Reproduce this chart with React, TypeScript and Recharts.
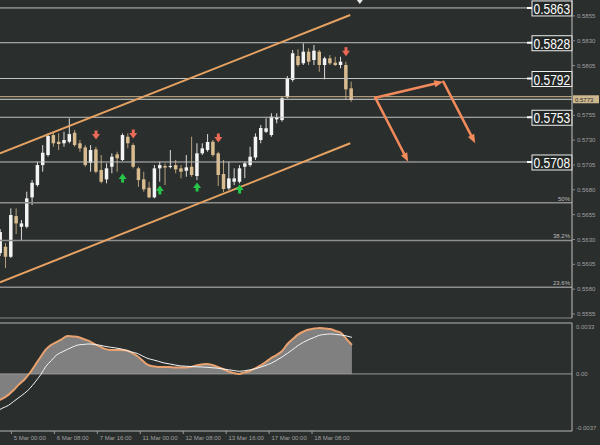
import React from "react";
import {
  Area,
  Bar,
  ComposedChart,
  Line,
  ReferenceDot,
  ReferenceLine,
  XAxis,
  YAxis,
} from "recharts";

// 4H candles
const openPrices = [
  0.56163, 0.56227, 0.56126, 0.56536, 0.56428, 0.56428, 0.56724, 0.56848, 0.57049, 0.5715,
  0.57351, 0.57284, 0.57268, 0.57284, 0.57374, 0.57268, 0.57227, 0.57072, 0.57207, 0.56999,
  0.56905, 0.57032, 0.57157, 0.571, 0.57334, 0.5725, 0.57016, 0.56905, 0.56821, 0.56724,
  0.57016, 0.57039, 0.57032, 0.57049, 0.57016, 0.56992, 0.57032, 0.56939, 0.57167, 0.572,
  0.57284, 0.57167, 0.56959, 0.56815, 0.56881, 0.56881, 0.57032, 0.57049, 0.57125, 0.57301,
  0.57384, 0.57351, 0.57509, 0.57502, 0.57731, 0.57905, 0.58146, 0.58073, 0.5819, 0.58106,
  0.5819, 0.58056, 0.58123, 0.58079, 0.58056, 0.58056, 0.57821,
];
const highPrices = [
  0.56405, 0.56264, 0.56613, 0.56613, 0.56496, 0.56781, 0.56898, 0.57082, 0.5725, 0.57368,
  0.57384, 0.57368, 0.57384, 0.57519, 0.57402, 0.57301, 0.5725, 0.5725, 0.57233, 0.5715,
  0.57066, 0.57167, 0.57183, 0.57368, 0.57368, 0.57268, 0.57032, 0.56982, 0.56881, 0.57049,
  0.57082, 0.57066, 0.572, 0.571, 0.57049, 0.5715, 0.57334, 0.57268, 0.57268, 0.57361,
  0.57301, 0.57183, 0.571, 0.57082, 0.57016, 0.57049, 0.57082, 0.57233, 0.57368, 0.57452,
  0.57519, 0.5757, 0.5757, 0.57737, 0.57945, 0.58207, 0.58214, 0.58274, 0.58224, 0.58257,
  0.58207, 0.58139, 0.58156, 0.58139, 0.58139, 0.58089, 0.57888,
];
const lowPrices = [
  0.56133, 0.56012, 0.56113, 0.56355, 0.56294, 0.56412, 0.56647, 0.56831, 0.56982, 0.57133,
  0.57233, 0.572, 0.57233, 0.57268, 0.57233, 0.57183, 0.57032, 0.56982, 0.56966, 0.56865,
  0.56865, 0.56966, 0.56982, 0.5709, 0.57217, 0.57016, 0.56831, 0.56781, 0.56714, 0.56714,
  0.56881, 0.56848, 0.57016, 0.56966, 0.56915, 0.56931, 0.56931, 0.56898, 0.5715, 0.57183,
  0.57133, 0.56838, 0.56777, 0.56798, 0.56848, 0.56865, 0.56918, 0.57032, 0.571, 0.57268,
  0.57371, 0.57334, 0.57469, 0.57485, 0.57721, 0.57888, 0.58039, 0.58056, 0.58056, 0.58056,
  0.57988, 0.57912, 0.58056, 0.58046, 0.58023, 0.57704, 0.57686,
];
const closePrices = [
  0.56375, 0.56126, 0.56546, 0.56462, 0.56462, 0.56714, 0.56871, 0.57049, 0.57173, 0.57341,
  0.57268, 0.57261, 0.57301, 0.57361, 0.5725, 0.57217, 0.57049, 0.572, 0.56982, 0.56881,
  0.57016, 0.57133, 0.57117, 0.57351, 0.57268, 0.57032, 0.56898, 0.56805, 0.56724, 0.57016,
  0.57049, 0.57024, 0.57039, 0.57006, 0.56982, 0.57026, 0.56949, 0.57167, 0.57217, 0.57281,
  0.5715, 0.56949, 0.56808, 0.56915, 0.56915, 0.57016, 0.57066, 0.57133, 0.57334, 0.57422,
  0.57419, 0.57535, 0.57529, 0.57721, 0.57922, 0.58174, 0.58056, 0.5819, 0.58089, 0.582,
  0.58056, 0.58123, 0.58073, 0.58056, 0.58089, 0.57811, 0.57704,
];

// oscillator panel
const oscValues = [
  -0.00175, -0.00159, -0.00136, -0.00104, -0.00068, -0.00036, 0.00006, 0.00058, 0.0011, 0.00159,
  0.00188, 0.00207, 0.00226, 0.00246, 0.00243, 0.00239, 0.00226, 0.00214, 0.00194, 0.00178,
  0.00162, 0.00155, 0.00155, 0.00155, 0.00152, 0.00136, 0.00116, 0.00087, 0.00058, 0.00049,
  0.00045, 0.00045, 0.00045, 0.00042, 0.00042, 0.00042, 0.00045, 0.00055, 0.00061, 0.00065,
  0.00058, 0.00045, 0.00032, 0.00016, 0.00006, 0, 0.0001, 0.00019, 0.00036, 0.00055,
  0.00078, 0.00104, 0.00123, 0.00149, 0.00194, 0.00226, 0.00256, 0.00275, 0.00288, 0.00294,
  0.00298, 0.00294, 0.00291, 0.00278, 0.00265, 0.00226, 0.00188,
];
const signalValues = [
  -0.00239, -0.0022, -0.00204, -0.00178, -0.00152, -0.00126, -0.00094, -0.00052, -0.00006, 0.00049,
  0.00087, 0.00123, 0.00142, 0.00159, 0.00175, 0.00188, 0.00191, 0.00194, 0.00191, 0.00186,
  0.00179, 0.00173, 0.00168, 0.00162, 0.00152, 0.00142, 0.00133, 0.00116, 0.001, 0.00091,
  0.00081, 0.00071, 0.00065, 0.00058, 0.00052, 0.0005, 0.00048, 0.00046, 0.00045, 0.00043,
  0.0004, 0.00037, 0.00032, 0.00027, 0.00022, 0.00017, 0.00021, 0.00026, 0.00034, 0.00044,
  0.00056, 0.0007, 0.00089, 0.0011, 0.00134, 0.00159, 0.00185, 0.00206, 0.00223, 0.00237,
  0.00251, 0.00256, 0.00259, 0.00256, 0.00252, 0.00246, 0.00237,
];

const timeTickIndex = [3, 11, 19, 27, 35, 43, 51, 59];
const timeTickLabels = [
  "5 Mar 00:00", "6 Mar 08:00", "7 Mar 16:00", "11 Mar 00:00",
  "12 Mar 08:00", "13 Mar 16:00", "17 Mar 00:00", "18 Mar 08:00",
];

const priceTicks = [0.5855, 0.583, 0.5805, 0.5755, 0.573, 0.5705, 0.568, 0.5655, 0.563, 0.5605, 0.558, 0.5555];
const levelPrices = [0.5863, 0.5828, 0.5792, 0.5753, 0.5708];
const fibPrices = [0.5667, 0.5629, 0.5582];
const fibLabels = ["50%", "38.2%", "23.6%"];
const askPrice = 0.57737;
const bidPrice = 0.57711;
const lastPriceLabel = "0.5773";

const sellSignalIndex = [18, 25, 41, 65];
const sellSignalPrice = [0.57351, 0.57361, 0.57321, 0.5819];
const buySignalIndex = [23, 30, 37, 45];
const buySignalPrice = [0.56918, 0.56798, 0.56828, 0.56808];

// channel and projection drawings (x = candle slot)
const channelUpper = [{ x: -0.06, y: 0.57167 }, { x: 65.8, y: 0.58559 }];
const channelLower = [{ x: -0.06, y: 0.55869 }, { x: 65.8, y: 0.57268 }];
const projStart = { x: 70.5, y: 0.57727 };
const projPeak = { x: 83.3, y: 0.57888 };
const projDropNow = { x: 76.7, y: 0.57082 };
const projDropLater = { x: 89.3, y: 0.57268 };
const shiftMarker = { x: 67.6, y: 0.5871 };

const oscTicks = [0.0033, 0, -0.0037];
const SLOTS = 108;

const BG = "#2a2e2d";
const AXIS_TEXT = "#a0a0a0";
const ARROW = "#f28a5c";

const rows = Array.from({ length: SLOTS }, (_, i) => {
  const s = sellSignalIndex.indexOf(i);
  const b = buySignalIndex.indexOf(i);
  return {
    i,
    open: openPrices[i] ?? null,
    high: highPrices[i] ?? null,
    low: lowPrices[i] ?? null,
    close: closePrices[i] ?? null,
    osc: oscValues[i] ?? null,
    signal: signalValues[i] ?? null,
    sell: s >= 0 ? sellSignalPrice[s] : null,
    buy: b >= 0 ? buySignalPrice[b] : null,
  };
});

function Candle(props: any) {
  const { x, y, width, height, payload } = props;
  if (!payload || payload.open == null || !isFinite(y)) return <g />;
  const { open, close, high, low } = payload;
  const top = Math.min(y, y + height);
  const span = Math.abs(height);
  const k = span / (high - low);
  const cx = x + width / 2;
  const bodyTop = top + (high - Math.max(open, close)) * k;
  const bodyBottom = top + (high - Math.min(open, close)) * k;
  const up = close >= open;
  return (
    <g>
      <line x1={cx} x2={cx} y1={top} y2={top + span} stroke={up ? "#dcdcdc" : "#b8a07c"} strokeWidth={1} />
      <rect
        x={cx - 1.75}
        y={bodyTop}
        width={3.5}
        height={Math.max(1, bodyBottom - bodyTop)}
        fill={up ? "#f4f4f4" : "#d8bb8e"}
      />
    </g>
  );
}

function SellArrow(props: any) {
  const { cx, cy, value, index } = props;
  if (value == null || cy == null || !isFinite(cy)) return <g key={`s${index}`} />;
  return (
    <g key={`s${index}`}>
      <rect x={cx - 1.5} y={cy - 4.5} width={3} height={4} fill="#ec6a55" />
      <polygon points={`${cx - 4},${cy - 1} ${cx + 4},${cy - 1} ${cx},${cy + 4.5}`} fill="#ec6a55" />
    </g>
  );
}

function BuyArrow(props: any) {
  const { cx, cy, value, index } = props;
  if (value == null || cy == null || !isFinite(cy)) return <g key={`b${index}`} />;
  return (
    <g key={`b${index}`}>
      <rect x={cx - 1.5} y={cy + 0.5} width={3} height={4} fill="#27c64a" />
      <polygon points={`${cx - 4},${cy + 1} ${cx + 4},${cy + 1} ${cx},${cy - 4.5}`} fill="#27c64a" />
    </g>
  );
}

function ArrowSegment(props: any) {
  const { x1, y1, x2, y2 } = props;
  const ang = Math.atan2(y2 - y1, x2 - x1);
  const bx = x2 - 9 * Math.cos(ang);
  const by = y2 - 9 * Math.sin(ang);
  const px = -Math.sin(ang) * 3.5;
  const py = Math.cos(ang) * 3.5;
  return (
    <g>
      <line x1={x1} y1={y1} x2={bx} y2={by} stroke={ARROW} strokeWidth={2.5} strokeLinecap="round" />
      <polygon points={`${x2},${y2} ${bx + px},${by + py} ${bx - px},${by - py}`} fill={ARROW} />
    </g>
  );
}

function ShiftMark(props: any) {
  const { cx, cy } = props;
  if (cx == null || cy == null) return <g />;
  return <polygon points={`${cx - 3},${cy} ${cx + 3},${cy} ${cx},${cy + 4}`} fill="#e8e8e8" />;
}

function LevelTag({ viewBox, text }: any) {
  if (!viewBox) return null;
  const right = viewBox.x + viewBox.width;
  const cy = viewBox.y;
  return (
    <g>
      <line x1={right - 45} x2={right - 40} y1={cy} y2={cy} stroke="#ffffff" strokeWidth={2} />
      <rect x={right - 40} y={cy - 7} width={40} height={15} fill="#232726" stroke="#f0f0f0" strokeWidth={1} />
      <text
        transform={`translate(${right - 38.5} ${cy + 6}) scale(0.8 1)`}
        x={0}
        y={0}
        fill="#ffffff"
        fontSize={15}
      >
        {text}
      </text>
    </g>
  );
}

function FibTag({ viewBox, text }: any) {
  if (!viewBox) return null;
  return (
    <text x={viewBox.x + viewBox.width - 2} y={viewBox.y - 2} fill="#bdbdbd" fontSize={6} textAnchor="end">
      {text}
    </text>
  );
}

function PriceTag({ viewBox, text }: any) {
  if (!viewBox) return null;
  const right = viewBox.x + viewBox.width;
  const cy = viewBox.y;
  return (
    <g>
      <rect x={right + 1} y={cy - 4} width={26} height={8} fill="#cdb78e" />
      <text x={right + 3} y={cy + 2.5} fill="#2b2b2b" fontSize={6}>
        {text}
      </text>
    </g>
  );
}

function TimeTick(props: any) {
  const { x, y, payload } = props;
  const k = timeTickIndex.indexOf(payload.value);
  return (
    <g>
      <line x1={x - 2.3} x2={x - 2.3} y1={y - 3} y2={y} stroke="#9a9a9a" />
      <text x={x} y={y + 5.5} fill={AXIS_TEXT} fontSize={6}>
        {k >= 0 ? timeTickLabels[k] : ""}
      </text>
    </g>
  );
}

function OscTick(props: any) {
  const { x, y, payload } = props;
  const v = payload.value;
  const label = v === 0 ? "0.00" : v.toFixed(4);
  const dy = v > 0 ? 6 : v < 0 ? -1 : 2;
  return (
    <text x={x} y={y + dy} fill={AXIS_TEXT} fontSize={6}>
      {label}
    </text>
  );
}

export default function App() {
  return (
    <div
      style={{
        position: "absolute",
        left: 0,
        top: 0,
        width: 600,
        height: 445,
        background: BG,
        fontFamily: "'Liberation Sans', Arial, sans-serif",
        overflow: "hidden",
      }}
    >
      <ComposedChart
        width={600}
        height={319}
        data={rows}
        margin={{ top: 0, right: 0, bottom: 0, left: -2.36 }}
      >
        <XAxis dataKey="i" type="category" height={1} tick={false} tickLine={false} axisLine={{ stroke: "#8a8a8a" }} />
        <XAxis xAxisId="n" dataKey="i" type="number" domain={[-0.5, 107.5]} allowDataOverflow hide />
        <YAxis
          orientation="right"
          width={28}
          domain={[0.5551, 0.5871]}
          allowDataOverflow
          ticks={priceTicks}
          interval={0}
          tickFormatter={(v: number) => v.toFixed(4)}
          tick={{ fill: AXIS_TEXT, fontSize: 6 }}
          tickSize={3}
          tickMargin={2}
          tickLine={{ stroke: "#8a8a8a" }}
          axisLine={{ stroke: "#c4c4c4" }}
        />
        {fibPrices.map((p, k) => (
          <ReferenceLine
            key={`fib${k}`}
            y={p}
            stroke="#8e8e8e"
            strokeWidth={1.5}
            label={<FibTag text={fibLabels[k]} />}
          />
        ))}
        {levelPrices.map((p) => (
          <ReferenceLine
            key={`lvl${p}`}
            y={p}
            stroke="#c2c2c2"
            strokeWidth={1}
            label={<LevelTag text={p.toFixed(4)} />}
          />
        ))}
        <ReferenceLine y={askPrice} stroke="#cbb48a" strokeWidth={1} />
        <ReferenceLine y={bidPrice} stroke="#d4d4d4" strokeWidth={1} label={<PriceTag text={lastPriceLabel} />} />
        <ReferenceLine xAxisId="n" segment={channelUpper} stroke="#e6a263" strokeWidth={2} />
        <ReferenceLine xAxisId="n" segment={channelLower} stroke="#e6a263" strokeWidth={2} />
        <Bar
          dataKey={(d: any) => (d.high == null ? null : [d.low, d.high])}
          shape={Candle}
          isAnimationActive={false}
        />
        <Line dataKey="sell" stroke="none" dot={SellArrow} activeDot={false} isAnimationActive={false} />
        <Line dataKey="buy" stroke="none" dot={BuyArrow} activeDot={false} isAnimationActive={false} />
        <ReferenceLine xAxisId="n" segment={[projStart, projPeak]} shape={ArrowSegment} />
        <ReferenceLine xAxisId="n" segment={[projStart, projDropNow]} shape={ArrowSegment} />
        <ReferenceLine xAxisId="n" segment={[projPeak, projDropLater]} shape={ArrowSegment} />
        <ReferenceDot xAxisId="n" x={shiftMarker.x} y={shiftMarker.y} shape={ShiftMark} />
      </ComposedChart>
      <div style={{ position: "absolute", left: 0, top: 322 }}>
        <ComposedChart
          width={600}
          height={123}
          data={rows}
          margin={{ top: 1, right: 0, bottom: 0, left: -2.36 }}
        >
          <XAxis
            dataKey="i"
            type="category"
            height={14}
            ticks={timeTickIndex}
            interval={0}
            tick={<TimeTick />}
            tickSize={3}
            tickMargin={0}
            tickLine={false}
            axisLine={{ stroke: "#b8b8b8" }}
          />
          <YAxis
            orientation="right"
            width={28}
            domain={[-0.0037, 0.0033]}
            allowDataOverflow
            ticks={oscTicks}
            interval={0}
            tick={<OscTick />}
            tickSize={3}
            tickMargin={1}
            tickLine={false}
            axisLine={{ stroke: "#b8b8b8" }}
          />
          <ReferenceLine y={0.0033} stroke="#b8b8b8" />
          <Area
            dataKey="osc"
            type="linear"
            baseValue={0}
            fill="#808080"
            fillOpacity={1}
            stroke="none"
            isAnimationActive={false}
          />
          <ReferenceLine y={0} stroke="#9a9a9a" />
          <Line dataKey="osc" type="monotone" stroke="#e9a26f" strokeWidth={2} dot={false} activeDot={false} isAnimationActive={false} />
          <Line dataKey="signal" type="monotone" stroke="#f4f4f4" strokeWidth={1} dot={false} activeDot={false} isAnimationActive={false} />
        </ComposedChart>
      </div>
    </div>
  );
}
